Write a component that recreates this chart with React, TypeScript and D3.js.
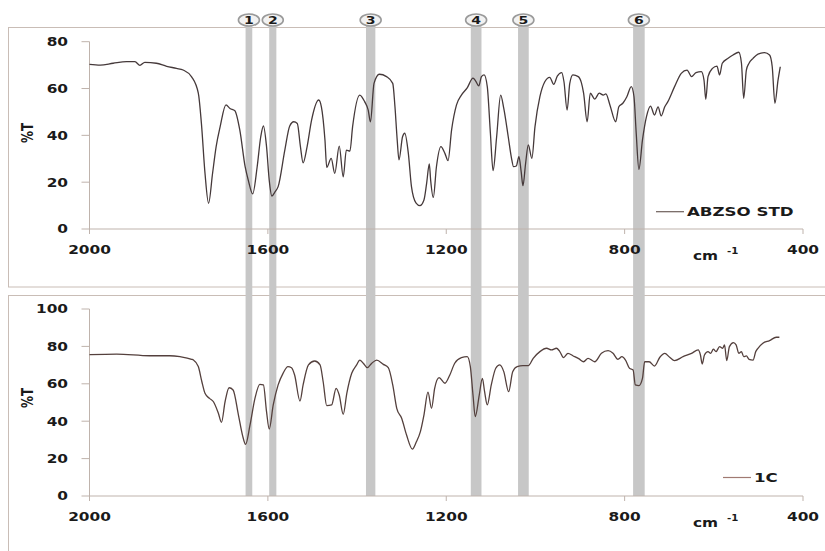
import React from "react";
import * as d3 from "d3";

// ---- data ----
const topWn = [2000,1976,1947,1917,1898,1887,1876,1850,1827,1805,1790,1771,1756,1749,1741,1733,1724,1716,1707,1694,1685,1674,1663,1651,1644,1634,1624,1616,1610,1603,1597,1591,1584,1577,1562,1551,1542,1534,1527,1521,1512,1502,1486,1480,1472,1468,1458,1450,1440,1431,1424,1416,1410,1394,1383,1375,1370,1362,1350,1334,1320,1315,1310,1306,1298,1293,1285,1278,1268,1259,1250,1244,1238,1235,1229,1222,1212,1203,1196,1188,1177,1166,1153,1140,1134,1127,1121,1115,1108,1101,1095,1087,1078,1071,1061,1054,1049,1043,1037,1032,1028,1022,1016,1008,1001,990,979,968,959,951,941,936,929,923,916,904,897,892,884,877,867,857,848,842,833,820,813,804,795,785,779,774,768,760,751,742,733,725,718,710,703,688,673,660,650,640,628,622,618,613,603,593,587,581,568,557,544,538,533,527,521,512,501,486,475,469,463,456,451];
const topT = [70.3,70.0,70.8,71.5,71.5,69.9,71.2,70.8,69.5,68.6,67.9,65.0,58,45,23.8,11.0,23.8,35.2,43.7,53.0,51.5,50.5,42.3,26.6,20.9,15,26.6,39.4,44.0,35.2,20.9,14.1,15.9,18.1,33.7,44,45.8,45.1,35.2,28.3,35.2,46.5,55.1,52.2,38,26.3,30.2,23.8,35.4,22.3,33.7,33.3,43.7,57.2,54.4,50.8,45.8,62.2,66.1,65.1,62.2,52.2,38,29.5,39.4,40.9,32.3,18.1,11.2,10,12.4,19.5,27.8,20.9,13.5,26.6,35.2,32.3,29.2,42.3,53,57.2,60.3,64.4,63.2,61.1,65.1,65.8,60.8,40.9,24.9,39.4,57.2,51.5,39.4,30.6,26.6,26.9,30.9,24.5,18.5,28.1,35.9,30.2,43.7,56.5,62.9,64.8,61.8,65.3,66.8,62.9,50.8,62.2,65.8,65.1,62.5,58,45.8,58,55.5,58,57.2,57.7,53,45.8,52.2,53.7,56.5,60.8,56.5,40.9,25.5,38,48,52.5,48.7,52.2,48.3,52.2,54.4,60.8,66.5,67.9,65.1,66.8,67.2,63.6,55.4,65.1,68.6,69.6,65.8,70.8,72.9,74.3,75.5,70.8,55.8,67.9,70.8,72.9,74.7,75.3,74.3,69.3,53.7,63.6,69.3];

const botWn = [2000,1939,1865,1820,1797,1771,1767,1756,1748,1741,1731,1722,1711,1704,1696,1687,1678,1666,1657,1650,1640,1629,1618,1610,1603,1597,1588,1577,1566,1555,1547,1540,1528,1521,1509,1495,1483,1476,1468,1457,1447,1440,1431,1423,1412,1401,1394,1386,1377,1367,1356,1341,1330,1320,1311,1300,1289,1276,1267,1258,1250,1241,1233,1226,1216,1203,1192,1181,1166,1153,1146,1140,1135,1126,1119,1114,1108,1099,1089,1080,1071,1060,1051,1041,1028,1016,1005,990,975,964,953,946,937,927,916,902,892,882,871,867,852,837,826,815,806,798,789,781,776,768,760,755,745,733,721,710,699,688,669,650,635,630,626,621,613,607,601,595,587,580,576,571,565,556,550,544,538,533,527,521,512,506,501,490,475,460,453];
const botT = [75.6,75.9,75.0,75.0,74.5,73.1,72.7,69.2,61.1,54.9,52.2,50.4,44.2,39.4,50.4,57.9,56.7,43.3,32.6,27.6,38,52.2,59.7,59.4,45.1,35.8,48.7,59.4,65.6,69.2,68.6,64.7,50.8,59.4,70.1,72.2,70.1,61.1,48.3,48.7,57.6,54,43.7,54.9,65.6,70.1,72.7,71,68.6,71,72.7,70.4,68.6,59.4,46.9,41.6,32.6,25.1,29,34.4,43.3,55.5,46.9,57.6,63.3,60.3,64.7,71,74,74.5,69.2,54,42.4,54,62.9,55.8,48.7,59.4,68.3,70.1,66.5,55.8,66.5,69.2,69.7,69.7,73.6,77.2,79,78.1,79,77.5,74,76.3,75,73.3,71.8,73.6,72.2,71.8,76.3,77.7,76.3,73.1,74.5,72.7,68.3,67.4,59.4,59,62.9,71.8,71.8,69.5,74.2,76.3,74.2,72.4,74.5,76.3,78.1,75.4,70.6,75.4,77.2,76.3,78.5,77.2,79.9,79,80.8,72.4,79.9,82,80.8,76.3,77.2,74.5,74.9,73.1,72.7,77.2,79,81.7,83.1,84.9,84.9];

const xTicks = [2000, 1600, 1200, 800, 400];
const topYTicks = [0, 20, 40, 60, 80];
const botYTicks = [0, 20, 40, 60, 80, 100];

const bandLabels = ["1", "2", "3", "4", "5", "6"];
const bandFrom = [1650, 1597, 1380, 1145, 1039, 781];
const bandTo = [1635, 1581, 1359, 1121, 1015, 755];

const topName = "ABZSO STD";
const botName = "1C";

// ---- layout ----
const W = 825, H = 551;
const x = d3.scaleLinear().domain([2000, 400]).range([89.5, 803]);
const yTop = d3.scaleLinear().domain([0, 80]).range([229, 41.7]);
const yBot = d3.scaleLinear().domain([0, 100]).range([496, 309]);

const FONT = "'DejaVu Sans', Verdana, sans-serif";
const SX = 1.28;
const AXIS = "#bfb3ac";

function SText(props: { x: number; y: number; size: number; anchor?: string; children: any; rotate?: boolean; fill?: string }) {
  const { x: tx, y: ty, size, anchor = "start", children, rotate, fill = "#1a1a1a" } = props;
  const tr = rotate
    ? `translate(${tx},${ty}) scale(${SX},1) rotate(-90)`
    : `translate(${tx},${ty}) scale(${SX},1)`;
  return (
    <text transform={tr} fontFamily={FONT} fontWeight="bold" fontSize={size} textAnchor={anchor} fill={fill}>
      {children}
    </text>
  );
}

function Panel(props: { y: d3.ScaleLinear<number, number>; yTicks: number[]; wn: number[]; t: number[]; stroke: string; legendStroke: string; name: string; legendX: number; legendY: number; labelY: number }) {
  const { y, yTicks, wn, t, stroke, legendStroke, name, legendX, legendY, labelY } = props;
  const y0 = y(0);
  const yMax = y(yTicks[yTicks.length - 1]);
  const pts: [number, number][] = wn.map((w, i) => [w, t[i]]);
  const line = d3
    .line<[number, number]>()
    .x((d) => x(d[0]))
    .y((d) => y(d[1]))
    .curve(d3.curveMonotoneX);
  return (
    <g>
      {/* y axis */}
      <line x1={x(2000)} x2={x(2000)} y1={yMax} y2={y0} stroke={AXIS} strokeWidth={1} />
      {yTicks.map((v) => (
        <g key={"y" + v}>
          <line x1={x(2000) - 8} x2={x(2000)} y1={y(v)} y2={y(v)} stroke={AXIS} strokeWidth={1} />
          <SText x={68} y={y(v) + 4.4} size={12} anchor="end">{v}</SText>
        </g>
      ))}
      {/* x axis */}
      <line x1={x(2000)} x2={x(400)} y1={y0} y2={y0} stroke={AXIS} strokeWidth={1} />
      {xTicks.map((v) => (
        <g key={"x" + v}>
          <line x1={x(v)} x2={x(v)} y1={y0} y2={y0 + 5} stroke={AXIS} strokeWidth={1} />
          <SText x={x(v)} y={y0 + 25} size={12} anchor="middle">{v}</SText>
        </g>
      ))}
      <SText x={33} y={labelY} size={12} anchor="middle" rotate>%T</SText>
      <SText x={693} y={y0 + 31} size={12}>cm</SText>
      <SText x={727} y={y0 + 25} size={8}>-1</SText>
      {/* spectrum */}
      <path d={line(pts) || ""} fill="none" stroke={stroke} strokeWidth={1.3} strokeLinejoin="round" />
      {/* legend */}
      <line x1={legendX} x2={legendX + 28} y1={legendY} y2={legendY} stroke={legendStroke} strokeWidth={1.2} />
      <SText x={legendX + 31} y={legendY + 4.5} size={13}>{name}</SText>
    </g>
  );
}

export default function App() {
  return (
    <svg width={W} height={H} style={{ position: "absolute", left: 0, top: 0, background: "#fff" }}>
      <rect x={0} y={0} width={W} height={H} fill="#fff" />
      {/* frames */}
      <rect x={8.5} y={27.5} width={840} height={259.5} fill="none" stroke="#c9bdb6" strokeWidth={1} />
      <rect x={8.5} y={295.5} width={840} height={280} fill="none" stroke="#c9bdb6" strokeWidth={1} />
      {/* bands */}
      {bandLabels.map((lab, i) => (
        <rect key={"b" + lab} x={x(bandFrom[i])} width={x(bandTo[i]) - x(bandFrom[i])} y={26} height={yBot(0) - 26} fill="#c7c7c7" />
      ))}
      <Panel y={yTop} yTicks={topYTicks} wn={topWn} t={topT} stroke="#45393a" legendStroke="#6e5f5b" name={topName} legendX={656} legendY={211.7} labelY={133} />
      <Panel y={yBot} yTicks={botYTicks} wn={botWn} t={botT} stroke="#54403d" legendStroke="#a07a72" name={botName} legendX={723} legendY={477.5} labelY={398} />
      {/* band labels */}
      {bandLabels.map((lab, i) => {
        const cx = (x(bandFrom[i]) + x(bandTo[i])) / 2;
        return (
          <g key={"l" + lab}>
            <ellipse cx={cx} cy={20} rx={10.5} ry={6} fill="#f2f2f2" stroke="#9a9a9a" strokeWidth={1.6} />
            <SText x={cx} y={24} size={11} anchor="middle">{lab}</SText>
          </g>
        );
      })}
    </svg>
  );
}
